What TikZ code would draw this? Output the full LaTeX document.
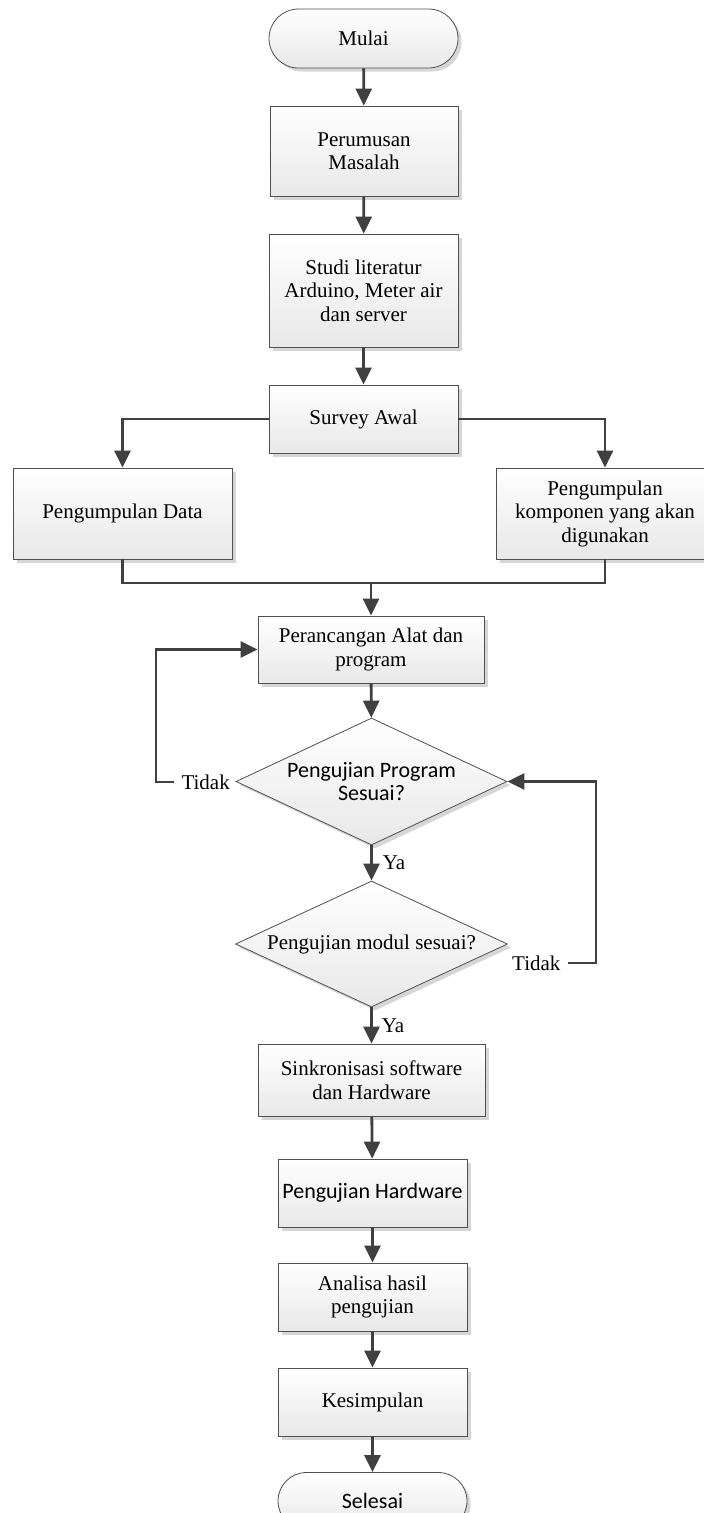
\documentclass[tikz,border=0pt]{standalone}
\usepackage{fontspec}
\setmainfont{Liberation Serif}
\newfontfamily\calib{Carlito}
\usetikzlibrary{arrows.meta,shapes.geometric,shapes.misc,shadows}
\definecolor{linec}{HTML}{404040}
\definecolor{borderc}{HTML}{505050}
\begin{document}
\begin{tikzpicture}[x=1pt,y=-1pt,
  base/.style={draw=borderc, line width=0.8pt, top color=white, bottom color=black!9,
    drop shadow={shadow xshift=3.5pt, shadow yshift=-3.5pt, fill=black!16, opacity=1},
    inner sep=0pt, align=center, font=\fontsize{21}{23.5}\selectfont},
  proc/.style={base, rectangle},
  term/.style={base, rounded rectangle},
  dec/.style={base, diamond, aspect=2.13},
  sans/.style={font=\calib\fontsize{22}{23}\selectfont},
  arr/.style={draw=linec, line width=2.8pt, -{Triangle[length=17pt,width=16pt]}},
  ln/.style={draw=linec, line width=2.8pt},
  ya/.style={anchor=west, inner sep=0pt, xshift=10pt, font=\fontsize{21}{23.5}\selectfont},
  tidak/.style={inner xsep=7pt, inner ysep=0pt, font=\fontsize{21}{23.5}\selectfont}
]
\path[use as bounding box] (0,0) rectangle (704,1513);
\clip (0,0) rectangle (704,1513);
\fill[white] (0,0) rectangle (704,1513);

\node[term, minimum width=189, minimum height=59] (mulai) at (363.5,38.5) {Mulai};
\node[proc, minimum width=188, minimum height=90] (rumus) at (364,151) {Perumusan\\Masalah};
\node[proc, minimum width=189, minimum height=113] (studi) at (363.5,290.5) {Studi literatur\\Arduino, Meter air\\dan server};
\node[proc, minimum width=189, minimum height=68] (survey) at (363.5,419) {Survey Awal};
\node[proc, minimum width=219, minimum height=91] (data) at (122.5,513.5) {Pengumpulan Data};
\node[proc, minimum width=218, minimum height=91] (komp) at (605,513.5) {Pengumpulan\\komponen yang akan\\digunakan};
\node[proc, minimum width=226, minimum height=67] (rancang) at (371,649.5) {Perancangan Alat dan\\program};
\node[dec, sans, minimum width=271, minimum height=127] (d1) at (371.5,781.5) {Pengujian Program\\Sesuai?};
\node[dec, minimum width=272, minimum height=126] (d2) at (371.5,944) {Pengujian modul sesuai?};
\node[proc, minimum width=227, minimum height=72] (sinkron) at (371.5,1080) {Sinkronisasi software\\dan Hardware};
\node[proc, sans, minimum width=189, minimum height=68] (hw) at (372.5,1193) {Pengujian Hardware};
\node[proc, minimum width=189, minimum height=68] (analisa) at (372.5,1297) {Analisa hasil\\pengujian};
\node[proc, minimum width=189, minimum height=68] (kesim) at (372.5,1402) {Kesimpulan};
\node[term, sans, minimum width=189, minimum height=57] (selesai) at (372.5,1501) {Selesai};

\node[tidak, anchor=east] (tL) at (237,782) {Tidak};
\node[tidak, anchor=west] (tR) at (505,963) {Tidak};
\coordinate (cL) at (156,782);
\coordinate (cR) at (596,963);
\coordinate (m) at (371,583);

\draw[arr] (mulai) -- (rumus);
\draw[arr] (rumus) -- (studi);
\draw[arr] (studi) -- (survey);
\draw[arr] (survey.west) -| (data.north);
\draw[arr] (survey.east) -| (komp.north);
\draw[ln] (data.south) |- (m) -| (komp.south);
\draw[arr] (m) -- (rancang.north);
\draw[arr] (rancang) -- (d1);
\draw[arr] (d1) -- node[ya]{Ya} (d2);
\draw[arr] (d2) -- node[ya, xshift=-1pt]{Ya} (sinkron);
\draw[arr] (sinkron) -- (hw);
\draw[arr] (hw) -- (analisa);
\draw[arr] (analisa) -- (kesim);
\draw[arr] (kesim) -- (selesai);
\draw[arr] (tL.west) -- (cL) |- (rancang.west);
\draw[arr] (tR.east) -- (cR) |- (d1.east);
\end{tikzpicture}
\end{document}
